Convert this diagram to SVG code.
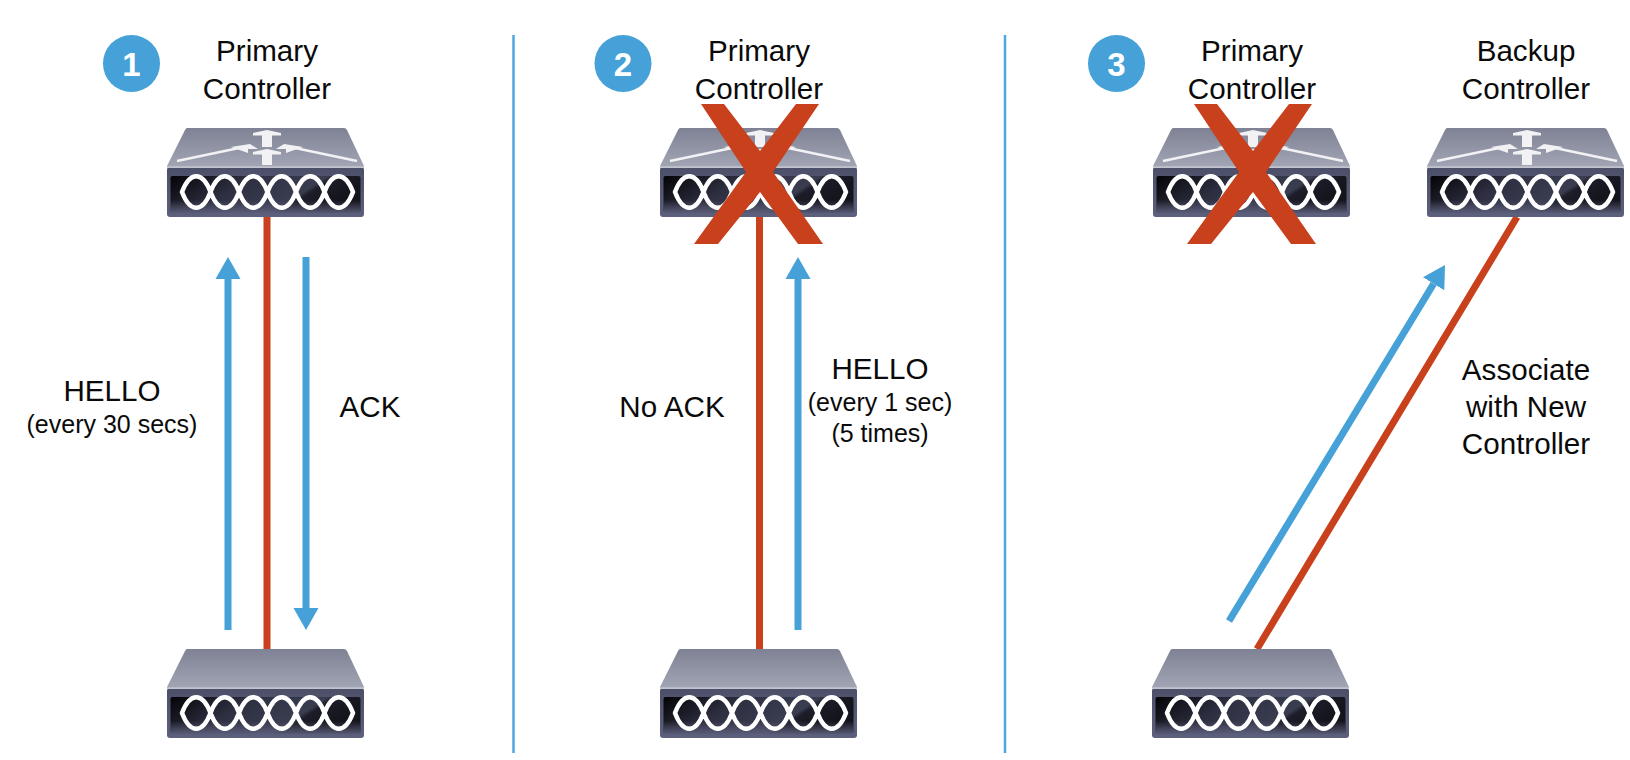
<svg xmlns="http://www.w3.org/2000/svg" width="1630" height="760" viewBox="0 0 1630 760">
<style>
text{font-family:"Liberation Sans",Arial,sans-serif;fill:#0a0a0a;text-anchor:middle}
.t{font-size:29.6px}
.s{font-size:25px}
.n{font-size:33px;font-weight:bold;fill:#fff}
.badge{fill:#45a1d7}
.div{stroke:#4ea6da;stroke-width:2.5;fill:none}
.blue{stroke:#45a1d7;stroke-width:7;fill:none}
.red{stroke:#c8401c;stroke-width:7;fill:none}
.cross{fill:#c8401c}
</style>
<defs>
<linearGradient id="gt" x1="0" y1="0" x2="0" y2="1"><stop offset="0" stop-color="#7e8294"/><stop offset="1" stop-color="#a3a6b5"/></linearGradient>
<linearGradient id="gf" x1="0" y1="0" x2="0" y2="1"><stop offset="0" stop-color="#4c4f68"/><stop offset="1" stop-color="#5d607c"/></linearGradient>
<linearGradient id="gp" x1="0" y1="0" x2="1" y2="0.3"><stop offset="0" stop-color="#040406"/><stop offset="0.4" stop-color="#2e3042"/><stop offset="0.76" stop-color="#3a3c50"/><stop offset="0.8" stop-color="#1c1d28"/><stop offset="1" stop-color="#14141c"/></linearGradient>
<linearGradient id="gfade" x1="0" y1="0" x2="0" y2="1"><stop offset="0" stop-color="#5d607c" stop-opacity="0"/><stop offset="1" stop-color="#5d607c" stop-opacity="0.9"/></linearGradient>
<marker id="head" markerUnits="userSpaceOnUse" markerWidth="24" markerHeight="28" refX="0" refY="13" orient="auto"><path d="M0,0.5 L22,13 L0,25.5 Z" fill="#45a1d7"/></marker>
<g id="base">
<path d="M20,0 H177 Q179,0 180,2 L197,38 V40 H0 V38 L18,2 Q19,0 20,0 Z" fill="url(#gt)"/>
<rect x="0" y="39" width="197" height="50" rx="3" fill="url(#gf)"/>
<rect x="0" y="38.500" width="197" height="1.400" fill="#cfd1da"/>
<rect x="3.500" y="48" width="190" height="37" rx="2" fill="url(#gp)"/>
<rect x="3.500" y="72" width="190" height="13" fill="url(#gfade)"/>
<path fill="none" stroke="#fff" stroke-width="4.500" stroke-linejoin="round" d="M15,64 C23,43 35.500,43 43.500,64 C51.500,85 64,85 72,64 C80,43 92.500,43 100.500,64 C108.500,85 121,85 129,64 C137,43 149.500,43 157.500,64 C165.500,85 178,85 186,64 C178,43 165.500,43 157.500,64 C149.500,85 137,85 129,64 C121,43 108.500,43 100.500,64 C92.500,85 80,85 72,64 C64,43 51.500,43 43.500,64 C35.500,85 23,85 15,64 Z"/>
</g>
<g id="router">
<use href="#base"/>
<path fill="none" stroke="#f2f2f5" stroke-width="2.500" d="M10,33 L72,20 M190,33 L128,20"/>
<path d="M100,2 L114,5 V7.500 H105 V19 H95 V7.500 H86 V5 Z M100,21 L114,24 V26.500 H105 V37 H95 V26.500 H86 V24 Z M64,19 L83,16 L91,21 L81,21 L81,25 Z M136,19 L117,16 L109,21 L119,21 L119,25 Z" fill="#f2f2f5"/>
</g>
<polygon id="x" class="cross" points="41,-24 64,-24 100,23 136,-24 159,-24 113,44 163,116 138,116 100,64 58,116 34,116 86,44"/>
</defs>

<g id="dividers">
<line class="div" x1="513.500" y1="35" x2="513.500" y2="753"/>
<line class="div" x1="1005" y1="35" x2="1005" y2="753"/>
</g>

<g id="connectors">
<line class="blue" x1="228" y1="630" x2="228" y2="279" marker-end="url(#head)"/>
<line class="red" x1="267" y1="217" x2="267" y2="649"/>
<line class="blue" x1="306" y1="257" x2="306" y2="608" marker-end="url(#head)"/>
<line class="red" x1="759.500" y1="217" x2="759.500" y2="649"/>
<line class="blue" x1="798" y1="630" x2="798" y2="279" marker-end="url(#head)"/>
<line class="blue" x1="1229" y1="621" x2="1433.600" y2="283.800" marker-end="url(#head)"/>
<line class="red" x1="1517" y1="217" x2="1257" y2="649"/>
</g>

<g id="node-primary-1">
<use href="#router" x="167" y="128"/>
<text class="t" x="267" y="61">Primary</text><text class="t" x="267" y="99">Controller</text>
</g>
<g id="node-switch-1"><use href="#base" x="167" y="649"/></g>

<g id="node-primary-2">
<use href="#router" x="660" y="128"/>
<text class="t" x="759" y="61">Primary</text><text class="t" x="759" y="99">Controller</text>
<use href="#x" x="660" y="128"/>
</g>
<g id="node-switch-2"><use href="#base" x="660" y="649"/></g>

<g id="node-primary-3">
<use href="#router" x="1153" y="128"/>
<text class="t" x="1252" y="61">Primary</text><text class="t" x="1252" y="99">Controller</text>
<use href="#x" x="1153" y="128"/>
</g>
<g id="node-backup-3">
<use href="#router" x="1427" y="128"/>
<text class="t" x="1526" y="61">Backup</text><text class="t" x="1526" y="99">Controller</text>
</g>
<g id="node-switch-3"><use href="#base" x="1152" y="649"/></g>

<g id="badge-1"><circle class="badge" cx="131.500" cy="63.500" r="28.500"/><text class="n" x="131.500" y="76">1</text></g>
<g id="badge-2"><circle class="badge" cx="623" cy="63.500" r="28.500"/><text class="n" x="623" y="76">2</text></g>
<g id="badge-3"><circle class="badge" cx="1116.500" cy="63.500" r="28.500"/><text class="n" x="1116.500" y="76">3</text></g>

<g id="labels">
<text class="t" x="112" y="401">HELLO</text>
<text class="s" x="112" y="433">(every 30 secs)</text>
<text class="t" x="370" y="417">ACK</text>
<text class="t" x="672" y="417">No ACK</text>
<text class="t" x="880" y="379">HELLO</text>
<text class="s" x="880" y="411">(every 1 sec)</text>
<text class="s" x="880" y="442">(5 times)</text>
<text class="t" x="1526" y="380">Associate</text>
<text class="t" x="1526" y="417">with New</text>
<text class="t" x="1526" y="454">Controller</text>
</g>
</svg>
